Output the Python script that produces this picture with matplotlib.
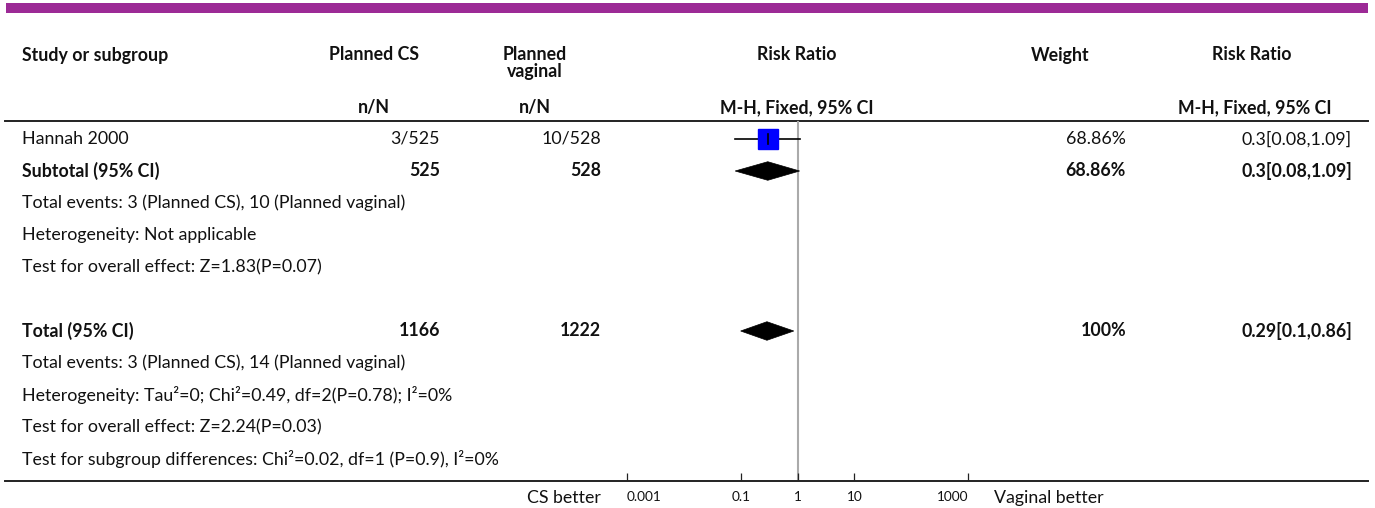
import matplotlib
matplotlib.use("Agg")
import matplotlib.pyplot as plt
from matplotlib.patches import Polygon
import numpy as np

plt.rcParams['font.family'] = ['Lato', 'DejaVu Sans']

# ---------------- data ----------------
row_labels = [
    "Hannah 2000",
    "Subtotal (95% CI)",
    "Total events: 3 (Planned CS), 10 (Planned vaginal)",
    "Heterogeneity: Not applicable",
    "Test for overall effect: Z=1.83(P=0.07)",
    "",
    "Total (95% CI)",
    "Total events: 3 (Planned CS), 14 (Planned vaginal)",
    "Heterogeneity: Tau\u00b2=0; Chi\u00b2=0.49, df=2(P=0.78); I\u00b2=0%",
    "Test for overall effect: Z=2.24(P=0.03)",
    "Test for subgroup differences: Chi\u00b2=0.02, df=1 (P=0.9), I\u00b2=0%",
]
cs_col = ["3/525", "525", "", "", "", "", "1166", "", "", "", ""]
vag_col = ["10/528", "528", "", "", "", "", "1222", "", "", "", ""]
weight_col = ["68.86%", "68.86%", "", "", "", "", "100%", "", "", "", ""]
rr_col = ["0.3[0.08,1.09]", "0.3[0.08,1.09]", "", "", "", "", "0.29[0.1,0.86]", "", "", "", ""]
bold_rows = [1, 6]

# individual studies: row, estimate, lower, upper, weight
study_rows = [0]
study_rr = [0.3]
study_lo = [0.08]
study_hi = [1.09]
study_w = [68.86]

# pooled estimates (diamonds)
pooled_rows = [1, 6]
pooled_rr = [0.3, 0.29]
pooled_lo = [0.08, 0.1]
pooled_hi = [1.09, 0.86]

xticks = [0.001, 0.1, 1, 10, 1000]
xtick_labels = ["0.001", "0.1", "1", "10", "1000"]

# ---------------- layout ----------------
W, H = 1375, 508
fig = plt.figure(figsize=(W / 100, H / 100), dpi=100)
bg = fig.add_axes([0, 0, 1, 1])
bg.set_xlim(0, W)
bg.set_ylim(H, 0)
bg.axis("off")

purple = "#9c2a96"
txt = "#111111"
fs = 12.8

# purple top bar
bg.add_patch(plt.Rectangle((6, 3), 1362, 10, color=purple, lw=0))

# header
hy1, hy2, hy3 = 55, 72, 108
bg.text(22, hy1, "Study or subgroup", fontsize=fs, fontweight="bold", va="center", ha="left", color=txt)
bg.text(374, hy1, "Planned CS", fontsize=fs, fontweight="bold", va="center", ha="center", color=txt)
bg.text(535, hy1, "Planned", fontsize=fs, fontweight="bold", va="center", ha="center", color=txt)
bg.text(535, hy2, "vaginal", fontsize=fs, fontweight="bold", va="center", ha="center", color=txt)
bg.text(797, hy1, "Risk Ratio", fontsize=fs, fontweight="bold", va="center", ha="center", color=txt)
bg.text(1060, hy1, "Weight", fontsize=fs, fontweight="bold", va="center", ha="center", color=txt)
bg.text(1252, hy1, "Risk Ratio", fontsize=fs, fontweight="bold", va="center", ha="center", color=txt)
bg.text(374, hy3, "n/N", fontsize=fs, fontweight="bold", va="center", ha="center", color=txt)
bg.text(535, hy3, "n/N", fontsize=fs, fontweight="bold", va="center", ha="center", color=txt)
bg.text(797, hy3, "M-H, Fixed, 95% CI", fontsize=fs, fontweight="bold", va="center", ha="center", color=txt)
bg.text(1255, hy3, "M-H, Fixed, 95% CI", fontsize=fs, fontweight="bold", va="center", ha="center", color=txt)

# header rule and bottom rule
bg.plot([5, 1368], [120.5, 120.5], color="#222222", lw=1.4)
bg.plot([5, 1368], [480.5, 480.5], color="#222222", lw=1.4)

row0, dy = 139, 32
for i, lab in enumerate(row_labels):
    y = row0 + dy * i
    fw = "bold" if i in bold_rows else "normal"
    if lab:
        bg.text(22, y, lab, fontsize=fs, fontweight=fw, va="center", ha="left", color=txt)
    if cs_col[i]:
        bg.text(440, y, cs_col[i], fontsize=fs, fontweight=fw, va="center", ha="right", color=txt)
    if vag_col[i]:
        bg.text(601, y, vag_col[i], fontsize=fs, fontweight=fw, va="center", ha="right", color=txt)
    if weight_col[i]:
        bg.text(1126, y, weight_col[i], fontsize=fs, fontweight=fw, va="center", ha="right", color=txt)
    if rr_col[i]:
        bg.text(1352, y, rr_col[i], fontsize=fs, fontweight=fw, va="center", ha="right", color=txt)

bg.text(601, 498, "CS better", fontsize=fs, va="center", ha="right", color=txt)
bg.text(994, 498, "Vaginal better", fontsize=fs, va="center", ha="left", color=txt)

# ---------------- forest axes ----------------
x0, x1 = 627, 968
ytop, ybot = 120, 480
ax = fig.add_axes([x0 / W, (H - ybot) / H, (x1 - x0) / W, (ybot - ytop) / H])
ax.set_xscale("log")
ax.set_xlim(0.001, 1000)
ax.set_ylim((ybot - row0) / dy, (ytop - row0) / dy)
ax.patch.set_alpha(0)
for s in ["top", "left", "right", "bottom"]:
    ax.spines[s].set_visible(False)
ax.set_yticks([])
ax.set_xticks(xticks)
ax.set_xticklabels(xtick_labels, fontsize=9.8, color=txt)
ax.minorticks_off()
ax.tick_params(axis="x", direction="in", length=5, width=0.9, color="#222222", pad=8)
tl = ax.get_xticklabels()
tl[0].set_ha("left")
tl[-1].set_ha("right")

# line of no effect
ax.plot([1, 1], [(122 - row0) / dy, (ybot - row0) / dy], color="#aaaaaa", lw=1.5, zorder=1)

# studies
for r, e, lo, hi, w in zip(study_rows, study_rr, study_lo, study_hi, study_w):
    ax.plot([lo, hi], [r, r], color="black", lw=1.2, zorder=2)
    ax.plot([e], [r], marker="s", markersize=np.sqrt(w) * 1.8, color="#0000ff", mec="#0000ff", zorder=3)
    ax.plot([e, e], [r - 0.17, r + 0.17], color="black", lw=1.2, zorder=4)

# pooled diamonds
hh = 0.29
for r, e, lo, hi in zip(pooled_rows, pooled_rr, pooled_lo, pooled_hi):
    ax.add_patch(Polygon([(lo, r), (e, r - hh), (hi, r), (e, r + hh)], closed=True,
                         facecolor="black", edgecolor="black", lw=0.5, zorder=3))

fig.savefig("out.png", dpi=100)
